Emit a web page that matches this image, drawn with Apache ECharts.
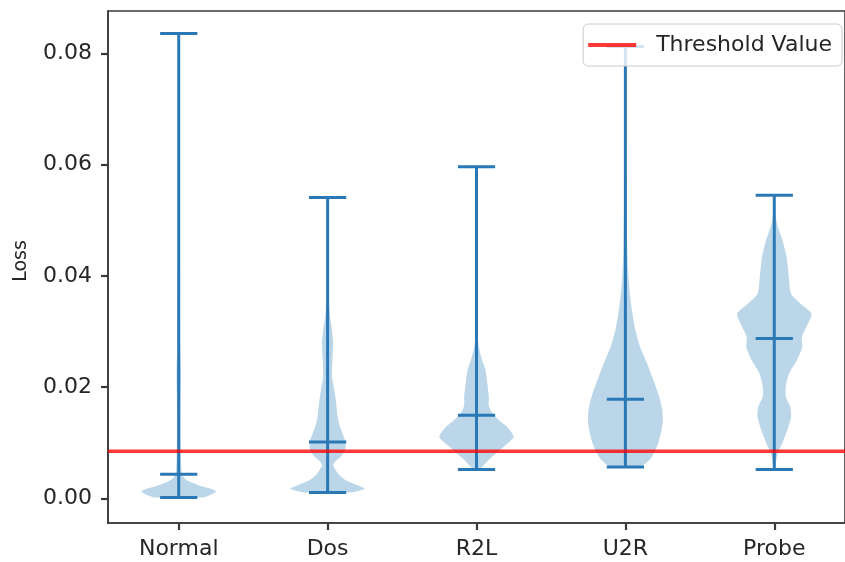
<!DOCTYPE html>
<html>
<head>
<meta charset="utf-8">
<script src="https://cdn.jsdelivr.net/npm/echarts@6/dist/echarts.min.js"></script>
<style>html,body{margin:0;padding:0;background:#fff;}#c{width:845px;height:562px;}</style>
</head>
<body>
<div id="c"></div>
<script>
const categories = ['Normal', 'Dos', 'R2L', 'U2R', 'Probe'];
const positions = [1, 2, 3, 4, 5];
const minLoss = [0.00018, 0.00108, 0.00521, 0.00568, 0.00521];
const midLoss = [0.00437, 0.01017, 0.01497, 0.01784, 0.02875];
const maxLoss = [0.08356, 0.0541, 0.0596, 0.0812, 0.0545];
const thresholdValue = 0.0085;
const yTicks = [0, 0.02, 0.04, 0.06, 0.08];

// violin outlines: [loss, relative density (1 = widest)]
const normalShape = [[0.00018,0.66],[0.0005,0.8],[0.0008,0.9],[0.0012,1.0],[0.0016,0.92],[0.0019,0.8],[0.0024,0.53],[0.0031,0.27],[0.0038,0.13],[0.0051,0.07],[0.010,0.05],[0.018,0.05],[0.0225,0.06],[0.027,0.04],[0.035,0.025],[0.05,0.015],[0.07,0.008],[0.08356,0.004]];
const dosShape = [[0.00108,0.62],[0.0014,0.85],[0.0018,1.0],[0.0024,0.8],[0.0033,0.49],[0.0042,0.32],[0.0051,0.22],[0.006,0.15],[0.0068,0.22],[0.0075,0.35],[0.0087,0.47],[0.0102,0.48],[0.0117,0.40],[0.0132,0.32],[0.0147,0.27],[0.0177,0.22],[0.0195,0.18],[0.0219,0.12],[0.0249,0.13],[0.0279,0.15],[0.0302,0.12],[0.032,0.08],[0.0338,0.05],[0.038,0.025],[0.045,0.015],[0.0541,0.005]];
const r2lShape = [[0.00521,0.06],[0.0057,0.155],[0.0066,0.28],[0.0075,0.42],[0.0093,0.73],[0.0103,0.9],[0.0111,1.0],[0.0126,0.86],[0.0141,0.6],[0.0156,0.4],[0.0168,0.33],[0.0183,0.33],[0.0207,0.29],[0.0231,0.24],[0.0249,0.15],[0.0267,0.08],[0.0285,0.04],[0.033,0.015],[0.045,0.008],[0.0596,0.003]];
const u2rShape = [[0.00568,0.40],[0.0065,0.58],[0.0075,0.71],[0.0099,0.88],[0.0135,1.0],[0.0159,0.99],[0.0183,0.91],[0.0213,0.75],[0.0243,0.58],[0.0272,0.40],[0.0302,0.27],[0.0332,0.19],[0.0362,0.13],[0.0404,0.08],[0.0452,0.05],[0.06,0.025],[0.07,0.012],[0.0812,0.004]];
const probeShape = [[0.00521,0.01],[0.0063,0.04],[0.0081,0.09],[0.0099,0.21],[0.0123,0.35],[0.0147,0.45],[0.0165,0.43],[0.0183,0.31],[0.0201,0.31],[0.0225,0.40],[0.0249,0.61],[0.0272,0.75],[0.029,0.74],[0.0311,0.88],[0.0332,1.0],[0.035,0.71],[0.0368,0.45],[0.0398,0.39],[0.0434,0.33],[0.0464,0.22],[0.0488,0.10],[0.0506,0.04],[0.0545,0.005]];
const shapes = [normalShape, dosShape, r2lShape, u2rShape, probeShape];

const X_MIN = 0.525, X_MAX = 5.475;
const Y_MIN = -0.0044, Y_MAX = 0.0876;
const HALF_WIDTH = 0.25, CAP_HALF = 0.125;
const BLUE = '#2a79b6';
const FONT = 'DejaVu Sans';
const AXIS = '#3a3a3a';

const chart = echarts.init(document.getElementById('c'), null, {renderer: 'canvas'});

const bodyData = positions.map((p, i) => [p, i]);
const lineData = positions.map((p, i) => [p, minLoss[i], midLoss[i], maxLoss[i]]);

chart.setOption({
  animation: false,
  backgroundColor: '#fff',
  grid: {left: 108, right: -8, top: 11, bottom: 39, show: true, borderColor: AXIS, borderWidth: 1.6, backgroundColor: 'transparent'},
  xAxis: {
    type: 'value', min: X_MIN, max: X_MAX,
    splitLine: {show: false},
    axisLine: {show: true, onZero: false, lineStyle: {color: AXIS, width: 1.6}},
    axisTick: {show: true, length: 7, customValues: positions, lineStyle: {color: AXIS, width: 2.2}},
    axisLabel: {customValues: positions, margin: 15, fontFamily: FONT, fontSize: 22, color: '#262626',
      formatter: v => categories[positions.indexOf(Math.round(v))] || ''}
  },
  yAxis: {
    type: 'value', min: Y_MIN, max: Y_MAX,
    splitLine: {show: false},
    axisLine: {show: true, onZero: false, lineStyle: {color: AXIS, width: 1.6}},
    axisTick: {show: true, length: 7, customValues: yTicks, lineStyle: {color: AXIS, width: 2.2}},
    axisLabel: {customValues: yTicks, margin: 16, fontFamily: FONT, fontSize: 22, color: '#262626',
      formatter: v => v.toFixed(2)}
  },
  legend: {
    data: ['Threshold Value'],
    right: 3, top: 24,
    padding: [10, 10, 10, 5],
    icon: 'rect', itemWidth: 48, itemHeight: 4,
    backgroundColor: 'rgba(255,255,255,0.8)',
    borderColor: '#cccccc', borderWidth: 1, borderRadius: 5,
    textStyle: {fontFamily: FONT, fontSize: 22, color: '#262626', padding: [0, 0, 0, 15]},
    itemStyle: {color: 'rgba(255,0,0,0.78)'}
  },
  series: [
    {
      type: 'custom', name: 'bodies', z: 2,
      data: bodyData,
      encode: {x: 0},
      renderItem: function (params, api) {
        const p = api.value(0);
        const shape = shapes[api.value(1)];
        const pts = [];
        for (let k = 0; k < shape.length; k++) {
          pts.push(api.coord([p - shape[k][1] * HALF_WIDTH, shape[k][0]]));
        }
        for (let k = shape.length - 1; k >= 0; k--) {
          pts.push(api.coord([p + shape[k][1] * HALF_WIDTH, shape[k][0]]));
        }
        return {type: 'polygon', shape: {points: pts, smooth: 0.25},
          style: {fill: 'rgba(31,119,180,0.3)', stroke: null}};
      }
    },
    {
      type: 'custom', name: 'lines', z: 3,
      data: lineData,
      encode: {x: 0, y: [1, 3]},
      renderItem: function (params, api) {
        const p = api.value(0);
        const lo = api.value(1), mid = api.value(2), hi = api.value(3);
        const style = {stroke: BLUE, lineWidth: 3, fill: null};
        const seg = (a, b) => {
          const A = api.coord(a), B = api.coord(b);
          return {type: 'line', shape: {x1: A[0], y1: A[1], x2: B[0], y2: B[1]}, style: style};
        };
        return {type: 'group', children: [
          seg([p, lo], [p, hi]),
          seg([p - CAP_HALF, lo], [p + CAP_HALF, lo]),
          seg([p - CAP_HALF, mid], [p + CAP_HALF, mid]),
          seg([p - CAP_HALF, hi], [p + CAP_HALF, hi])
        ]};
      }
    },
    {
      type: 'line', name: 'Threshold Value', z: 4,
      data: [[X_MIN, thresholdValue], [X_MAX, thresholdValue]],
      symbol: 'none',
      lineStyle: {color: 'rgba(255,0,0,0.78)', width: 3.5},
      itemStyle: {color: 'rgba(255,0,0,0.78)'}
    }
  ],
  graphic: [{
    type: 'text', x: 21, y: 261, rotation: Math.PI / 2,
    style: {text: 'Loss', fontFamily: FONT, fontSize: 19, fill: '#262626', align: 'center', verticalAlign: 'middle'}
  }]
});
</script>
</body>
</html>
